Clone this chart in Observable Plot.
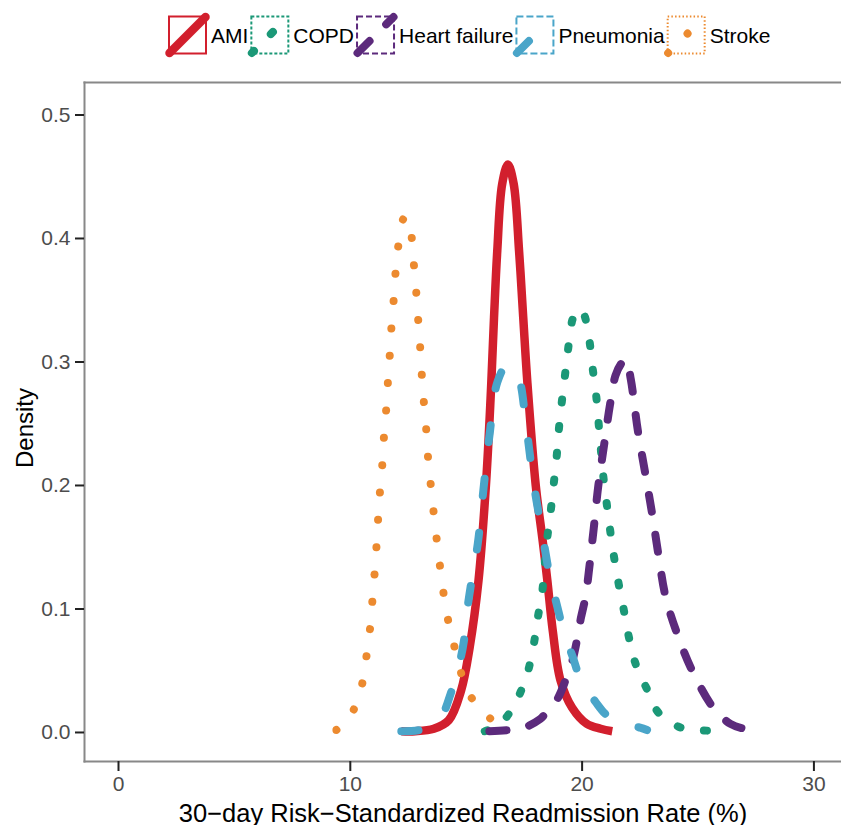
<!DOCTYPE html>
<html><head><meta charset="utf-8">
<script src="https://cdn.jsdelivr.net/npm/d3@7"></script>
<script src="https://cdn.jsdelivr.net/npm/@observablehq/plot@0.6"></script>
<style>
html,body{margin:0;padding:0;background:#fff;}
svg{display:block;}
#legend text{font-family:"Liberation Sans",Arial,sans-serif;font-size:21px;fill:#000;}
#chart [aria-label="x-axis tick"], #chart [aria-label="y-axis tick"]{stroke:#222;stroke-width:2px;}
</style></head><body>
<svg id="legend" width="841" height="70"></svg>
<div id="chart"></div>
<script>
// ---- data ----
const seriesNames = ["AMI","COPD","Heart failure","Pneumonia","Stroke"];
const seriesColors = ["#d21f2d","#1b9877","#5c2a7c","#4aa5c9","#ec8a2f"];
const seriesDash = [null,"3 23.8","17 23.5","17 37","0.01 27.4"];
const seriesWidth = [8.5,8,8,8,8];
const boxDash = [null,"3 2","6 3","7 3","1.5 2.2"];

const amiX = [12.2,12.8,13.6,14.25,14.78,15.15,15.53,15.85,16.05,16.2,16.34,16.55,16.8,17.05,17.28,17.46,17.64,18.0,18.3,18.5,18.73,19.07,19.57,20.2,20.8,21.3];
const amiY = [0.001,0.001,0.003,0.01,0.034,0.069,0.123,0.2,0.27,0.336,0.39,0.444,0.46,0.444,0.39,0.336,0.283,0.2,0.155,0.123,0.083,0.042,0.02,0.007,0.003,0.001];

const copdX = [15.8,16.2,16.63,17.2,17.64,17.92,18.08,18.28,18.38,18.5,18.65,18.78,18.9,19.0,19.12,19.26,19.4,19.58,19.8,20.04,20.3,20.44,20.6,20.7,20.8,20.9,21.05,21.2,21.37,21.58,21.8,22.02,22.3,22.8,23.3,24.25,25.0,26.0];
const copdY = [0.001,0.004,0.01,0.027,0.048,0.072,0.092,0.114,0.135,0.158,0.18,0.202,0.223,0.246,0.267,0.289,0.311,0.334,0.343,0.34,0.319,0.297,0.274,0.253,0.231,0.21,0.187,0.165,0.143,0.12,0.099,0.077,0.056,0.035,0.016,0.004,0.002,0.001];

const hfX = [16.0,16.8,17.5,18.2,18.4,18.93,19.3,19.58,19.79,19.94,20.15,20.3,20.5,20.7,20.95,21.2,21.44,21.7,21.9,22.1,22.4,22.74,23.03,23.3,23.6,24.1,24.8,25.7,26.4,27.0,27.6];
const hfY = [0.001,0.002,0.004,0.011,0.015,0.027,0.043,0.058,0.076,0.092,0.11,0.132,0.165,0.2,0.233,0.265,0.289,0.299,0.302,0.286,0.245,0.208,0.176,0.143,0.11,0.08,0.048,0.019,0.007,0.003,0.001];

const pneuX = [12.2,13.0,13.5,13.96,14.32,14.72,14.9,15.05,15.19,15.5,15.75,16.0,16.35,16.75,17.2,17.6,17.9,18.3,18.6,18.9,19.22,19.58,20.0,20.57,21.0,21.58,22.5,22.8];
const pneuY = [0.001,0.002,0.006,0.014,0.031,0.057,0.074,0.1,0.118,0.153,0.198,0.24,0.284,0.297,0.29,0.246,0.203,0.159,0.127,0.104,0.081,0.062,0.04,0.025,0.015,0.007,0.004,0.002];

const strokeX = [9.4,9.8,10.16,10.52,10.7,10.85,10.95,11.05,11.13,11.2,11.28,11.38,11.45,11.55,11.62,11.7,11.77,11.87,11.95,12.07,12.24,12.4,12.6,12.71,12.82,12.9,12.99,13.06,13.14,13.25,13.32,13.43,13.55,13.68,13.82,13.97,14.14,14.4,14.68,15.05,15.74,16.7];
const strokeY = [0.002,0.008,0.019,0.04,0.062,0.084,0.106,0.129,0.151,0.173,0.195,0.217,0.239,0.262,0.283,0.305,0.327,0.35,0.372,0.394,0.414,0.418,0.407,0.385,0.363,0.341,0.319,0.297,0.274,0.253,0.23,0.208,0.186,0.164,0.142,0.12,0.098,0.077,0.055,0.034,0.016,0.003];

const xTicks = [0,10,20,30];
const yTicks = [0,0.1,0.2,0.3,0.4,0.5];
const xTitle = "30\u2212day Risk\u2212Standardized Readmission Rate (%)";
const yTitle = "Density";

// ---- build table ----
const seriesXY = [[amiX,amiY],[copdX,copdY],[hfX,hfY],[pneuX,pneuY],[strokeX,strokeY]];
const rows = [];
seriesXY.forEach(([xs,ys],i)=>xs.forEach((x,j)=>rows.push({series:seriesNames[i],x,y:ys[j]})));

const lineMarks = seriesNames.map((s,i)=>Plot.line(rows.filter(d=>d.series===s),{
  x:"x", y:"y", stroke: seriesColors[i], strokeWidth: seriesWidth[i],
  strokeDasharray: seriesDash[i] ?? undefined, strokeLinecap: seriesDash[i] ? "round" : "butt",
  strokeLinejoin:"round", curve:"catmull-rom"
}));

const chart = Plot.plot({
  width: 841, height: 755,
  marginLeft: 84, marginRight: 0, marginTop: 12, marginBottom: 64,
  style: {fontFamily: '"Liberation Sans", Arial, sans-serif', background:"#fff"},
  x: {domain: [-1.467, 31.19]},
  y: {domain: [-0.0235, 0.5263]},
  marks: [
    Plot.frame({anchor:"top", stroke:"#888", strokeWidth:2}),
    Plot.frame({anchor:"left", stroke:"#888", strokeWidth:2}),
    Plot.frame({anchor:"bottom", stroke:"#888", strokeWidth:2}),
    Plot.axisX({ticks: xTicks, tickSize: 10, tickPadding: 5, fontSize: 21, color:"#4d4d4d", label: null}),
    Plot.axisY({ticks: yTicks, tickFormat: d3.format(".1f"), tickSize: 9, tickPadding: 5, fontSize: 21, color:"#4d4d4d", label: null}),
    ...lineMarks,
    Plot.text([xTitle], {frameAnchor:"bottom", lineAnchor:"bottom", dy: 60, fontSize: 25.5, fill:"#000"}),
    Plot.text([yTitle], {frameAnchor:"left", textAnchor:"middle", lineAnchor:"middle", dx: -59, dy: 6, rotate: -90, fontSize: 24, fill:"#000"})
  ]
});
document.getElementById("chart").appendChild(chart);

// ---- legend ----
const leg = d3.select("#legend");
let cx = 168;
const by = 15.5, bs = 39;
seriesNames.forEach((s,i)=>{
  const g = leg.append("g");
  g.append("rect").attr("x",cx+1).attr("y",by+1).attr("width",bs-2).attr("height",bs-2)
    .attr("fill","#fff").attr("stroke",seriesColors[i]).attr("stroke-width",2)
    .attr("stroke-dasharray", boxDash[i]);
  g.append("line").attr("x1",cx+1.5).attr("y1",by+bs-1.5).attr("x2",cx+bs-1.5).attr("y2",by+1.5)
    .attr("stroke",seriesColors[i]).attr("stroke-width",seriesWidth[i])
    .attr("stroke-dasharray", seriesDash[i]).attr("stroke-linecap","round");
  const t = g.append("text").attr("x",cx+bs+4).attr("y",43).text(s);
  cx += bs + 4 + t.node().getComputedTextLength() + 2;
});
</script>
</body></html>
